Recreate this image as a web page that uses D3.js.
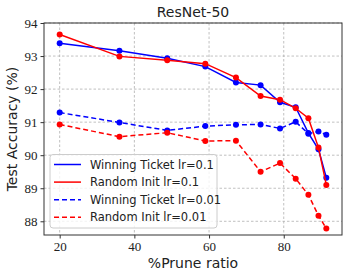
<!DOCTYPE html>
<html><head><meta charset="utf-8">
<script src="https://cdn.jsdelivr.net/npm/d3@7"></script>
<style>body{margin:0;background:#fff}</style>
</head><body>
<svg id="c" width="351" height="278"></svg>
<script>
const pruneRatio = [20, 36, 48.8, 59, 67.2, 73.8, 79, 83.2, 86.6, 89.3, 91.4];
const winningTicket01 = [93.39, 93.16, 92.93, 92.68, 92.2, 92.12, 91.6, 91.45, 90.67, 90.18, 89.32];
const randomInit01 = [93.65, 92.99, 92.87, 92.77, 92.35, 91.79, 91.68, 91.42, 91.12, 90.23, 89.1];
const winningTicket001 = [91.29, 90.99, 90.75, 90.88, 90.92, 90.93, 90.81, 91.01, 90.65, 90.72, 90.62];
const randomInit001 = [90.93, 90.56, 90.68, 90.43, 90.44, 89.5, 89.76, 89.29, 88.8, 88.17, 87.78];
const xTicks = [20, 40, 60, 80];
const yTicks = [88, 89, 90, 91, 92, 93, 94];
const seriesNames = ["Winning Ticket lr=0.1", "Random Init lr=0.1", "Winning Ticket lr=0.01", "Random Init lr=0.01"];

const series = [
  {name: seriesNames[0], values: winningTicket01, color: "#0000ff", dash: null},
  {name: seriesNames[1], values: randomInit01, color: "#ff0000", dash: null},
  {name: seriesNames[2], values: winningTicket001, color: "#0000ff", dash: "5,3"},
  {name: seriesNames[3], values: randomInit001, color: "#ff0000", dash: "5,3"}
];

const svg = d3.select("#c");
const L = 44, R = 342, T = 23, B = 235;
const x = d3.scaleLinear().domain([15.8, 95.6]).range([L, R]);
const y = d3.scaleLinear().domain([87.585, 94]).range([B, T]);

// grid
const g = svg.append("g");
g.selectAll(".gx").data(xTicks).enter().append("line")
  .attr("x1", d => x(d)).attr("x2", d => x(d)).attr("y1", T).attr("y2", B)
  .attr("stroke", "#b0b0b0").attr("stroke-width", 0.8).attr("stroke-dasharray", "2.5,2");
g.selectAll(".gy").data(yTicks).enter().append("line")
  .attr("y1", d => y(d)).attr("y2", d => y(d)).attr("x1", L).attr("x2", R)
  .attr("stroke", "#b0b0b0").attr("stroke-width", 0.8).attr("stroke-dasharray", "2.5,2");

// axes
const xAxis = d3.axisBottom(x).tickValues(xTicks).tickSize(3.5).tickPadding(3).tickFormat(d3.format("d"));
const yAxis = d3.axisLeft(y).tickValues(yTicks).tickSize(3.5).tickPadding(3).tickFormat(d3.format("d"));
const ax = svg.append("g").attr("transform", `translate(0,${B})`).call(xAxis);
const ay = svg.append("g").attr("transform", `translate(${L},0)`).call(yAxis);
[ax, ay].forEach(a => {
  a.select(".domain").remove();
  a.selectAll("line").attr("stroke", "#333");
  a.selectAll("text").attr("font-family", "'Liberation Serif', 'DejaVu Serif', serif")
    .attr("font-size", 13).attr("fill", "#222");
});

// lines
const line = d3.line().x((d, i) => x(pruneRatio[i])).y(d => y(d));
series.forEach(s => {
  svg.append("path").datum(s.values).attr("d", line)
    .attr("fill", "none").attr("stroke", s.color).attr("stroke-width", 1.5)
    .attr("stroke-dasharray", s.dash);
  svg.selectAll(null).data(s.values).enter().append("circle")
    .attr("cx", (d, i) => x(pruneRatio[i])).attr("cy", d => y(d)).attr("r", 3)
    .attr("fill", s.color);
});

// frame
svg.append("rect").attr("x", L).attr("y", T).attr("width", R - L).attr("height", B - T)
  .attr("fill", "none").attr("stroke", "#333").attr("stroke-width", 1);

// legend
const lg = svg.append("g");
lg.append("rect").attr("x", 50).attr("y", 154.5).attr("width", 167).attr("height", 73.5)
  .attr("rx", 3).attr("fill", "#fff").attr("fill-opacity", 0.8).attr("stroke", "#ccc").attr("stroke-width", 1);
series.forEach((s, i) => {
  const yy = 164.5 + i * 17.6;
  lg.append("line").attr("x1", 54).attr("x2", 81).attr("y1", yy).attr("y2", yy)
    .attr("stroke", s.color).attr("stroke-width", 1.5).attr("stroke-dasharray", s.dash);
  lg.append("text").attr("x", 90).attr("y", yy).attr("dy", "0.35em")
    .attr("font-family", "'DejaVu Sans', sans-serif").attr("font-size", 11.5).attr("fill", "#222")
    .text(s.name);
});

// labels
svg.append("text").attr("x", (L + R) / 2).attr("y", 17).attr("text-anchor", "middle")
  .attr("font-family", "'DejaVu Sans', sans-serif").attr("font-size", 14).attr("fill", "#222").text("ResNet-50");
svg.append("text").attr("x", (L + R) / 2).attr("y", 268).attr("text-anchor", "middle")
  .attr("font-family", "'DejaVu Sans', sans-serif").attr("font-size", 14).attr("fill", "#222").text("%Prune ratio");
svg.append("text").attr("transform", `translate(17,${(T + B) / 2}) rotate(-90)`).attr("text-anchor", "middle")
  .attr("font-family", "'DejaVu Sans', sans-serif").attr("font-size", 14).attr("fill", "#222").text("Test Accuracy (%)");
</script>
</body></html>
